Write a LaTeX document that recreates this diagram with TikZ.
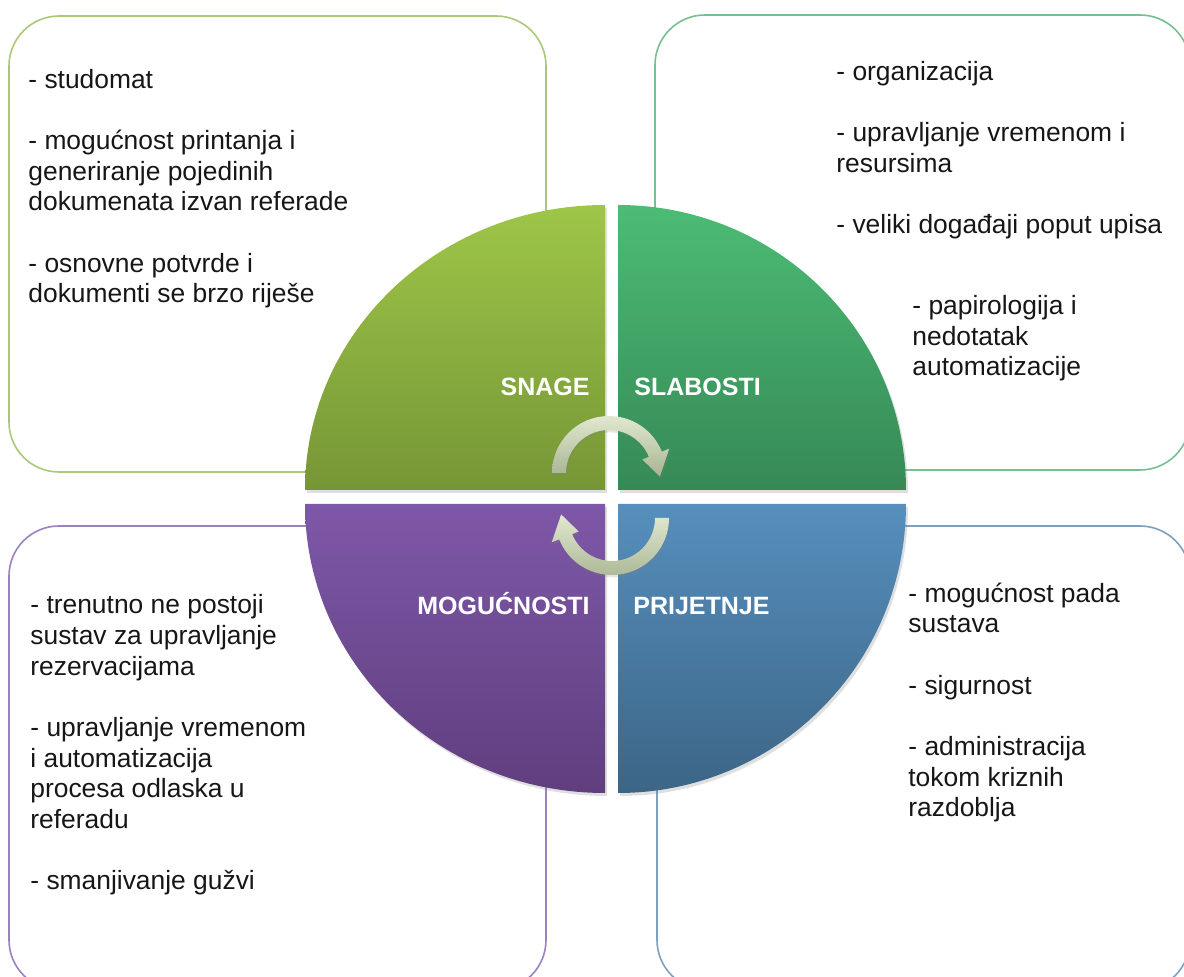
\documentclass[tikz,border=0pt]{standalone}
\usepackage{fontspec}
\setmainfont{Liberation Sans}
\usetikzlibrary{calc,shadows}

\definecolor{snagetop}{RGB}{158,198,72}
\definecolor{snagebot}{RGB}{118,150,54}
\definecolor{slabtop}{RGB}{76,188,117}
\definecolor{slabbot}{RGB}{54,137,86}
\definecolor{mogtop}{RGB}{126,88,168}
\definecolor{mogbot}{RGB}{96,62,126}
\definecolor{prijtop}{RGB}{86,143,189}
\definecolor{prijbot}{RGB}{60,101,134}
\definecolor{snageline}{RGB}{170,200,120}
\definecolor{slabline}{RGB}{120,190,145}
\definecolor{mogline}{RGB}{155,130,190}
\definecolor{prijline}{RGB}{125,160,190}
\definecolor{arrowtop}{RGB}{224,232,207}
\definecolor{arrowbot}{RGB}{168,180,146}
\definecolor{textcol}{RGB}{22,22,22}

\begin{document}
\begin{tikzpicture}[x=0.5pt,y=0.5pt,
  box/.style={line width=0.8pt,rounded corners=25pt},
  quarter/.style={drop shadow={opacity=0.25,shadow xshift=1pt,shadow yshift=-1.5pt}},
  turn/.style={top color=arrowtop,bottom color=arrowbot,
    drop shadow={opacity=0.2,shadow xshift=0.8pt,shadow yshift=-1.2pt}},
  label/.style={text=white,inner sep=0pt,font=\fontsize{12.5}{15}\selectfont\bfseries},
  point/.style={align=left,anchor=base west,inner sep=0pt,text=textcol,
    font=\fontsize{13.2}{15.35}\selectfont}]
  \useasboundingbox (0,0) rectangle (1184,-977);
  % okviri
  \draw[box,draw=snageline] (9,-16) rectangle (546,-472);
  \draw[box,draw=slabline] (655,-15) rectangle (1190,-470);
  \draw[box,draw=mogline] (9,-526) rectangle (546,-990);
  \draw[box,draw=prijline] (657,-526) rectangle (1190,-990);
  % cetvrtine kruga
  \path[quarter,top color=snagetop,bottom color=snagebot] (605,-490) -- (305,-490)
    arc[start angle=180,end angle=90,x radius=300,y radius=285] -- cycle;
  \path[quarter,top color=slabtop,bottom color=slabbot] (618,-490) -- (618,-205)
    arc[start angle=90,end angle=0,x radius=288,y radius=285] -- cycle;
  \path[quarter,top color=mogtop,bottom color=mogbot] (605,-504) -- (305,-504)
    arc[start angle=180,end angle=270,x radius=300,y radius=289] -- cycle;
  \path[quarter,top color=prijtop,bottom color=prijbot] (618,-504) -- (906,-504)
    arc[start angle=0,end angle=-90,x radius=288,y radius=289] -- cycle;
  % strelice
  \coordinate (ca) at (609,-473);
  \coordinate (cb) at (612,-518);
  \path[turn] ($(ca)+(180:57)$) arc[start angle=180,end angle=22,radius=57]
    -- ($(ca)+(22:65)$) -- ($(ca)+(-4:51)$) -- ($(ca)+(22:36)$)
    -- ($(ca)+(22:43)$) arc[start angle=22,end angle=180,radius=43] -- cycle;
  \path[turn] ($(cb)+(0:43)$) arc[start angle=0,end angle=-158,radius=43]
    -- ($(cb)+(-158:36)$) -- ($(cb)+(176:51)$) -- ($(cb)+(-158:65)$)
    -- ($(cb)+(-158:57)$) arc[start angle=-158,end angle=0,radius=57] -- cycle;
  % naslovi
  \node[label,anchor=base east] (snage) at (590,-396) {SNAGE};
  \node[label,anchor=base west] (slabosti) at (634,-396) {SLABOSTI};
  \node[label,anchor=base east] (mogucnosti) at (590,-615) {MOGUĆNOSTI};
  \node[label,anchor=base west] (prijetnje) at (633,-615) {PRIJETNJE};
  % tekstovi (sidro je osnovica zadnjeg retka)
  \node[point] (snageTxt) at (28,-303) {- studomat\\[15.35pt]
    - mogućnost printanja i\\generiranje pojedinih\\dokumenata izvan referade\\[15.35pt]
    - osnovne potvrde i\\dokumenti se brzo riješe};
  \node[point] (slabTxt) at (836,-234) {- organizacija\\[15.35pt]
    - upravljanje vremenom i\\resursima\\[15.35pt]
    - veliki događaji poput upisa};
  \node[point] (slabTxtB) at (912,-376) {- papirologija i\\nedotatak\\automatizacije};
  \node[point] (mogTxt) at (30,-890) {- trenutno ne postoji\\sustav za upravljanje\\rezervacijama\\[15.35pt]
    - upravljanje vremenom\\i automatizacija\\procesa odlaska u\\referadu\\[15.35pt]
    - smanjivanje gužvi};
  \node[point] (prijTxt) at (908,-817) {- mogućnost pada\\sustava\\[15.35pt]
    - sigurnost\\[15.35pt]
    - administracija\\tokom kriznih\\razdoblja};
\end{tikzpicture}
\end{document}
